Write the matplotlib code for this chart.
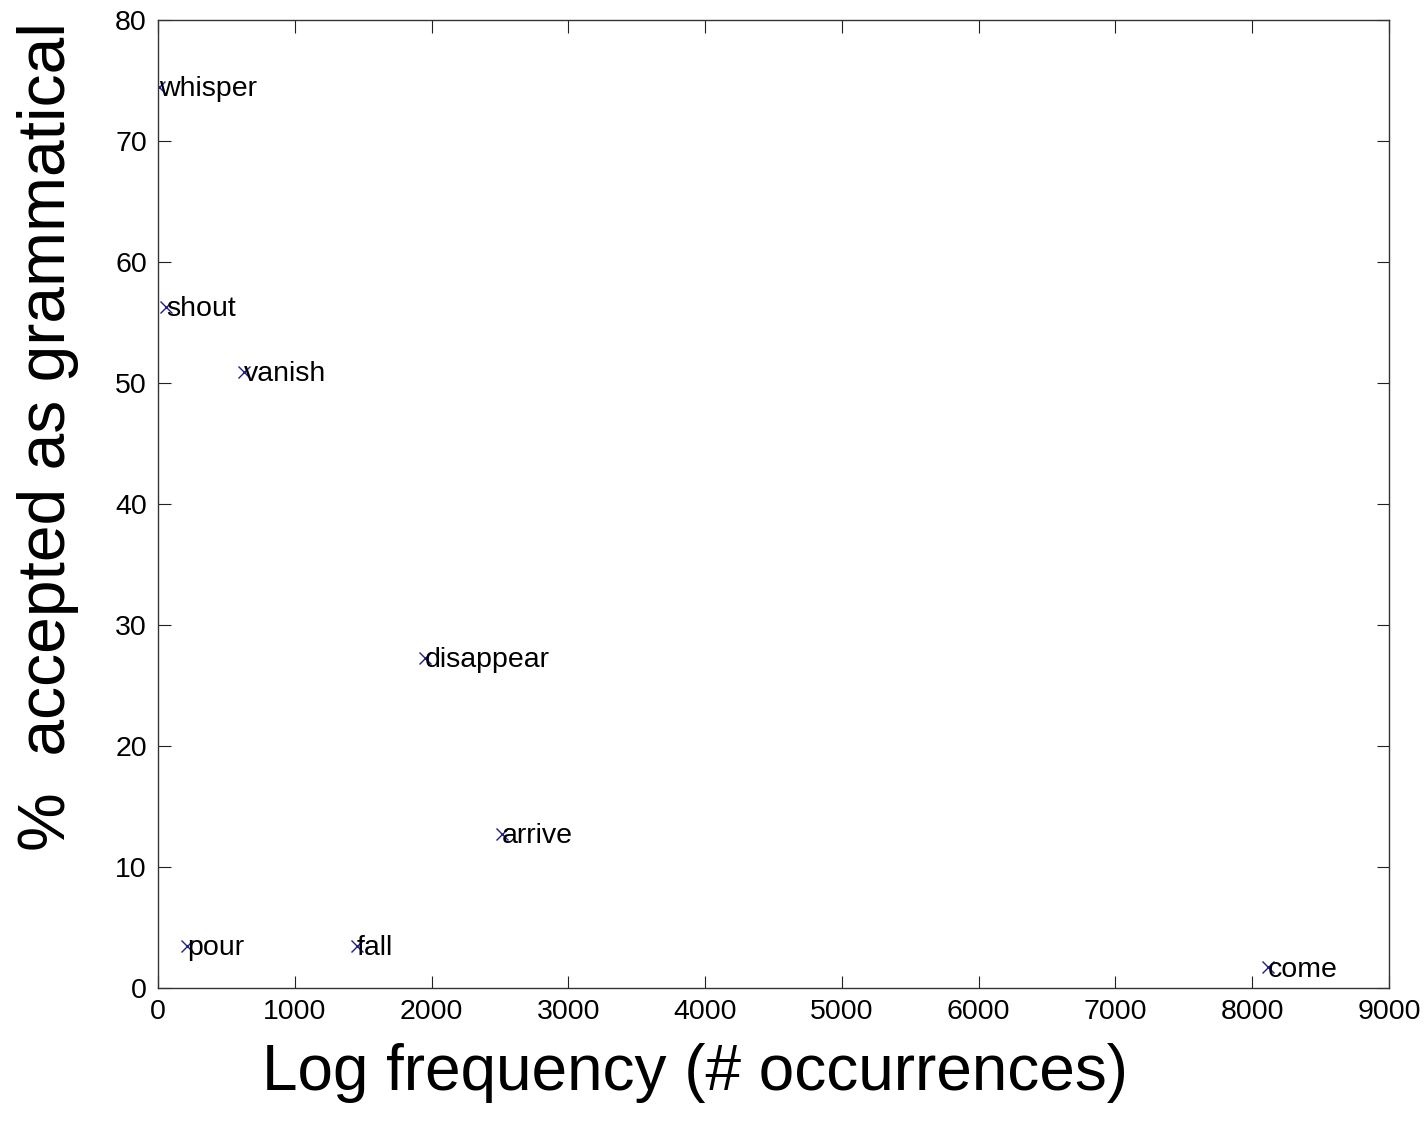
import matplotlib
matplotlib.use("Agg")
import matplotlib.pyplot as plt

plt.rcParams['font.family'] = ['Liberation Sans', 'DejaVu Sans']

words = ["whisper", "shout", "vanish", "disappear", "arrive", "pour", "fall", "come"]
freq = [10, 60, 630, 1950, 2515, 212, 1455, 8115]
accepted = [74.5, 56.3, 50.9, 27.3, 12.7, 3.5, 3.5, 1.7]

xticks = [0, 1000, 2000, 3000, 4000, 5000, 6000, 7000, 8000, 9000]
yticks = [0, 10, 20, 30, 40, 50, 60, 70, 80]

fig = plt.figure(figsize=(14.26, 11.34), dpi=100)
ax = fig.add_axes([158/1426, 1 - 988/1134, (1389 - 158)/1426, (988 - 20)/1134])

ax.plot(freq, accepted, linestyle='none', marker='x', color='#20208a',
        markersize=8, markeredgewidth=1.0)
for w, x, y in zip(words, freq, accepted):
    ax.annotate(w, (x, y), xytext=(0, -1.5), textcoords='offset points',
                ha='left', va='center', fontsize=20.5, color='black')

ax.set_xlim(0, 9000)
ax.set_ylim(0, 80)
ax.set_xticks(xticks)
ax.set_yticks(yticks)
ax.tick_params(direction='in', length=9, width=0.8, top=True, right=True,
               labelsize=20.5, pad=8, colors='#222222', labelcolor='black')
for s in ax.spines.values():
    s.set_linewidth(1.0)
    s.set_color('#333333')

fig.text(695/1426, 1 - 1073/1134, "Log frequency (# occurrences)",
         ha='center', va='center', fontsize=46)
fig.text(48/1426, 1 - 437/1134, "%  accepted as grammatical",
         ha='center', va='center', rotation=90, fontsize=47.5)

fig.savefig("out.png", dpi=100, facecolor='white')
